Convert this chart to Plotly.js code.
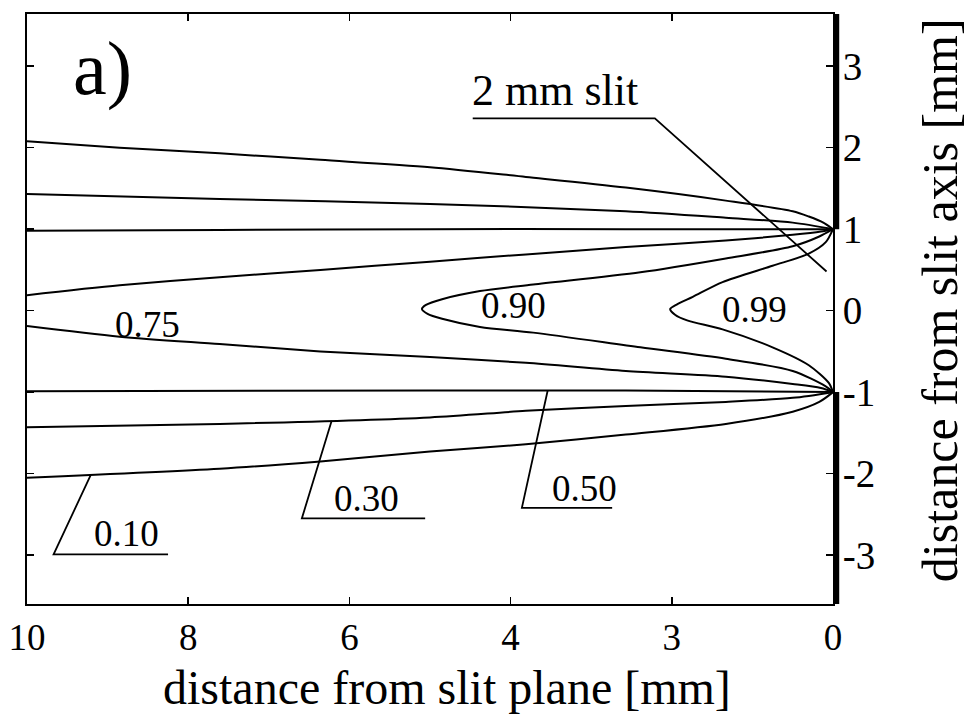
<!DOCTYPE html>
<html>
<head>
<meta charset="utf-8">
<script src="https://cdn.plot.ly/plotly-3.0.1.min.js"></script>
<style>
  html, body { margin: 0; padding: 0; background: #fff; }
  #chart { width: 968px; height: 716px; }
</style>
</head>
<body>
<div id="chart"></div>
<script>
// ---- data: contour lines (x = distance from slit plane, y = distance from slit axis), mm ----
var c010UpX = [10, 8.85, 7.61, 6.36, 5.0, 3.81, 2.57, 1.33, 0.5, 0.3, 0.12, 0];
var c010UpY = [2.08, 2.00, 1.93, 1.85, 1.76, 1.64, 1.51, 1.35, 1.22, 1.155, 1.08, 1.0];
var c010DnX = [10, 7.61, 6.36, 5.0, 3.81, 2.57, 1.33, 0.5, 0.17, 0];
var c010DnY = [-2.05, -1.94, -1.85, -1.73, -1.64, -1.52, -1.39, -1.24, -1.12, -1.0];

var c030UpX = [10, 7.61, 5.0, 2.57, 1.33, 0.5, 0];
var c030UpY = [1.43, 1.37, 1.31, 1.22, 1.14, 1.08, 1.0];
var c030DnX = [10, 7.61, 5.0, 3.81, 2.57, 1.33, 0.5, 0];
var c030DnY = [-1.43, -1.39, -1.31, -1.23, -1.17, -1.12, -1.07, -1.0];

var c050UpX = [10, 7.61, 5.0, 2.57, 1.33, 0];
var c050UpY = [0.98, 0.99, 1.0, 1.0, 1.0, 1.0];
var c050DnX = [10, 5.0, 2.57, 0];
var c050DnY = [-0.99, -0.98, -0.98, -1.0];

var c075UpX = [10, 8.85, 7.61, 6.36, 5.0, 3.81, 2.57, 1.33, 0.5, 0.15, 0];
var c075UpY = [0.19, 0.31, 0.41, 0.50, 0.60, 0.69, 0.78, 0.86, 0.93, 0.97, 1.0];
var c075DnX = [10, 8.85, 7.61, 6.36, 5.0, 3.81, 2.57, 1.33, 0.5, 0.15, 0];
var c075DnY = [-0.19, -0.32, -0.41, -0.50, -0.57, -0.64, -0.74, -0.81, -0.90, -0.95, -1.0];

var c090X = [0, 0.17, 0.5, 1.33, 2.39, 3.72, 4.38, 4.85, 5.05, 5.10, 5.03, 4.85, 4.38, 3.72, 2.39, 1.33, 0.5, 0.09, 0];
var c090Y = [1.0, 0.91, 0.79, 0.64, 0.47, 0.32, 0.24, 0.14, 0.07, 0.02, -0.04, -0.10, -0.20, -0.27, -0.45, -0.59, -0.74, -0.93, -1.0];

var c099X = [0, 0.09, 0.3, 0.75, 1.37, 1.74, 1.93, 2.02, 1.96, 1.81, 1.37, 0.75, 0.30, 0.05, 0];
var c099Y = [1.0, 0.84, 0.70, 0.55, 0.35, 0.17, 0.08, 0.02, -0.05, -0.12, -0.23, -0.45, -0.67, -0.89, -1.0];

// slit edges (2 mm slit -> +-1 mm)
var slitEdges = [1, -1];

// ticks
var xTickVals = [10, 8, 6, 4, 2, 0];
var xTickText = ["10", "8", "6", "4", "3", "0"];
var yTickVals = [3, 2, 1, 0, -1, -2, -3];
var yTickText = ["3", "2", "1", "0", "-1", "-2", "-3"];

var xRange = [10, 0];
var yRange = [-3.6, 3.64];

// ---- build ----
var FONT = "Liberation Serif, Times New Roman, serif";
var lineStyle = {color: "#000", width: 2, shape: "spline", smoothing: 0.8};
function tr(x, y) {
  return {x: x, y: y, type: "scatter", mode: "lines", line: lineStyle, hoverinfo: "skip", showlegend: false};
}
var traces = [
  tr(c010UpX, c010UpY), tr(c010DnX, c010DnY),
  tr(c030UpX, c030UpY), tr(c030DnX, c030DnY),
  tr(c050UpX, c050UpY), tr(c050DnX, c050DnY),
  tr(c075UpX, c075UpY), tr(c075DnX, c075DnY),
  tr(c090X, c090Y), tr(c099X, c099Y)
];

function leader(pts) {
  var d = "M" + pts.map(function (p) { return p[0] + "," + p[1]; }).join(" L");
  return {type: "path", xref: "x", yref: "y", path: d, line: {color: "#000", width: 1.8}};
}

var shapes = [
  // slit walls (thick lines at x = 0 beyond the slit edges)
  {type: "line", xref: "paper", yref: "y", x0: 1.004, x1: 1.004, y0: slitEdges[0], y1: yRange[1] + 1, line: {color: "#000", width: 6}},
  {type: "line", xref: "paper", yref: "y", x0: 1.004, x1: 1.004, y0: slitEdges[1], y1: yRange[0] - 1, line: {color: "#000", width: 6}},
  // label leader lines
  leader([[4.47, 2.36], [2.21, 2.36], [0.08, 0.48]]),
  leader([[8.25, -2.99], [9.67, -2.99], [9.21, -2.02]]),
  leader([[5.06, -2.55], [6.59, -2.55], [6.22, -1.35]]),
  leader([[2.74, -2.42], [3.86, -2.42], [3.54, -0.98]])
];

function label(text, x, y, size) {
  return {text: text, x: x, y: y, xref: "x", yref: "y", showarrow: false,
          font: {family: FONT, size: size, color: "#000"}, xanchor: "center", yanchor: "middle"};
}
var annotations = [
  label("a)", 9.06, 2.97, 76),
  label("2 mm slit", 3.45, 2.7, 44),
  label("0.75", 8.5, -0.17, 37),
  label("0.90", 3.96, 0.06, 37),
  label("0.99", 0.97, 0.01, 37),
  label("0.10", 8.76, -2.73, 37),
  label("0.30", 5.79, -2.31, 37),
  label("0.50", 3.08, -2.18, 37),
  // axis titles
  {text: "distance from slit plane [mm]", xref: "paper", yref: "paper", x: 0.521, y: 0, yshift: -83,
   xanchor: "center", yanchor: "middle", showarrow: false, font: {family: FONT, size: 48, color: "#000"}},
  {text: "distance from slit axis [mm]", xref: "paper", yref: "paper", x: 1, xshift: 107, y: 0.515,
   xanchor: "center", yanchor: "middle", textangle: -90, showarrow: false, font: {family: FONT, size: 50, color: "#000"}}
];

var layout = {
  width: 968, height: 716,
  paper_bgcolor: "#fff", plot_bgcolor: "#fff",
  margin: {l: 27, r: 135, t: 14, b: 112},
  font: {family: FONT, color: "#000"},
  showlegend: false,
  xaxis: {
    range: xRange, autorange: false,
    tickvals: xTickVals, ticktext: xTickText,
    ticks: "inside", ticklen: 7, tickwidth: 1.5, tickcolor: "#000",
    showline: true, linecolor: "#000", linewidth: 2, mirror: "ticks",
    showgrid: false, zeroline: false,
    tickfont: {family: FONT, size: 37, color: "#000"},
    automargin: false
  },
  yaxis: {
    range: yRange, autorange: false, side: "right",
    tickvals: yTickVals, ticktext: yTickText,
    ticks: "inside", ticklen: 7, tickwidth: 1.5, tickcolor: "#000",
    showline: true, linecolor: "#000", linewidth: 2, mirror: "ticks",
    showgrid: false, zeroline: false,
    tickfont: {family: FONT, size: 39, color: "#000"},
    automargin: false
  },
  shapes: shapes,
  annotations: annotations
};

Plotly.newPlot("chart", traces, layout, {staticPlot: true, displayModeBar: false});
</script>
</body>
</html>
